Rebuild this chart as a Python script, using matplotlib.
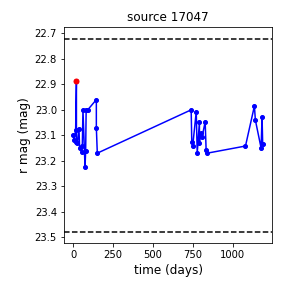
import numpy as np
import matplotlib
matplotlib.use('Agg')
import matplotlib.pyplot as plt

# light curve
days = [0, 4, 14, 19, 19, 25, 35, 39, 52, 56, 60, 73, 77, 80, 90, 144, 144, 150,
        739, 743, 749, 771, 777, 791, 791, 798, 808, 827, 833, 840,
        1080, 1136, 1142, 1178, 1184, 1188]
mags = [23.10, 23.12, 23.08, 22.885, 23.125, 23.13, 23.075, 23.15, 23.165, 23.14, 23.00, 23.225, 23.16, 23.00, 23.00, 22.96, 23.07, 23.17,
        23.00, 23.125, 23.14, 23.007, 23.17, 23.047, 23.13, 23.09, 23.105, 23.047, 23.158, 23.17,
        23.142, 22.985, 23.04, 23.15, 23.027, 23.135]
peak_day = 19
peak_mag = 22.885
lim_bright = 22.72
lim_faint = 23.48

fig, ax = plt.subplots(figsize=(4, 4), dpi=72)
ax.plot(days, mags, 'b-o', markersize=4)
ax.plot(peak_day, peak_mag, 'ro', markersize=5)
ax.axhline(lim_bright, color='k', linestyle='--')
ax.axhline(lim_faint, color='k', linestyle='--')
ax.margins(x=0.05, y=0.05)
ax.set_ylim(23.524, 22.674)
ax.set_xlabel('time (days)', fontsize=12)
ax.set_ylabel('r mag (mag)', fontsize=12)
ax.set_title('source 17047')
plt.subplots_adjust(left=0.222, right=0.945, top=0.907, bottom=0.155)
plt.savefig('out.png')
